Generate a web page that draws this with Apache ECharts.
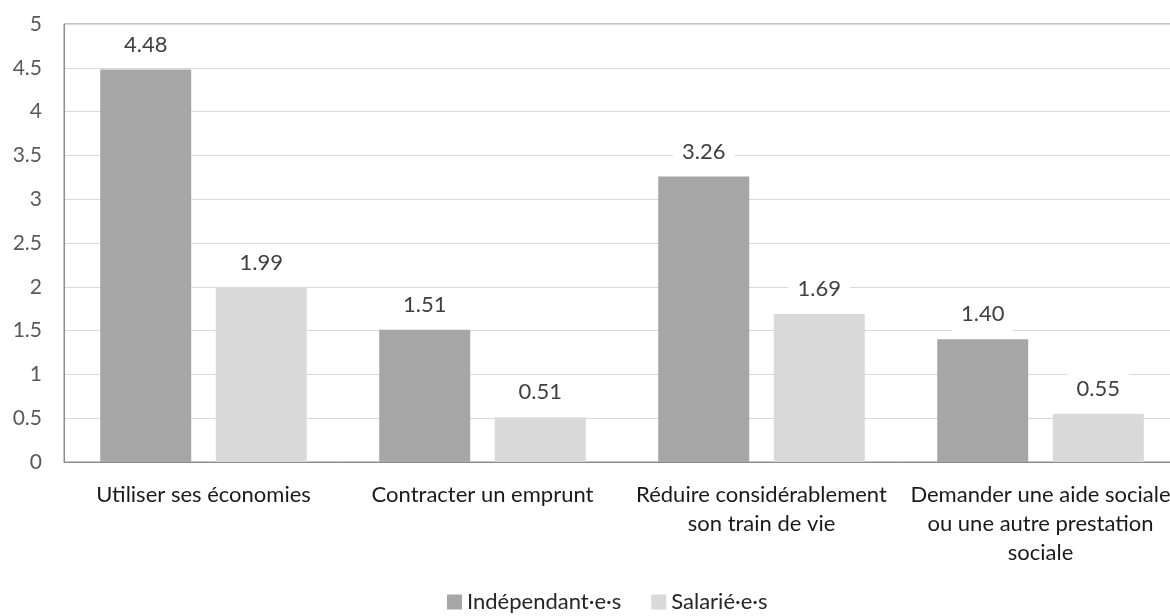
<!DOCTYPE html>
<html>
<head>
<meta charset="utf-8">
<script src="https://cdn.jsdelivr.net/npm/echarts@6/dist/echarts.min.js"></script>
<style>
  html, body { margin: 0; padding: 0; background: #fff; overflow: hidden; }
  #chart { width: 1180px; height: 616px; }
</style>
</head>
<body>
<div id="chart"></div>
<script>
// categories (line breaks as in the original)
const categories = [
  "Utiliser ses économies",
  "Contracter un emprunt",
  "Réduire considérablement\nson train de vie",
  "Demander une aide sociale\nou une autre prestation\nsociale",
];
const independants = [4.48, 1.51, 3.26, 1.40];
const salaries = [1.99, 0.51, 1.69, 0.55];
const seriesNames = ["Indépendant·e·s", "Salarié·e·s"];

const chart = echarts.init(document.getElementById("chart"), null, { renderer: "canvas" });

const fontFamily = "Lato, 'Open Sans', sans-serif";

// étiquette de valeur avec fond blanc (coupe la grille)
const valueLabel = {
  show: true,
  position: "top",
  distance: 8,
  formatter: (p) => p.value.toFixed(2),
  color: "#404040",
  fontSize: 22,
  fontFamily,
  backgroundColor: "#fff",
  padding: [5, 9, 6, 9],
};

const option = {
  animation: false,
  grid: {
    left: 64,
    right: 0,
    top: 24,
    bottom: 154,
    show: true,
    borderColor: "#8c8c8c",
    borderWidth: 1,
  },
  legend: {
    bottom: -2,
    left: 442,
    itemWidth: 15,
    itemHeight: 15,
    itemGap: 30,
    icon: "rect",
    textStyle: { color: "#262626", fontSize: 22, fontFamily },
    data: seriesNames,
  },
  xAxis: {
    type: "category",
    data: categories,
    axisTick: { show: false },
    axisLine: { lineStyle: { color: "#8c8c8c", width: 1 } },
    axisLabel: {
      interval: 0,
      color: "#1a1a1a",
      fontSize: 22,
      fontFamily,
      lineHeight: 29,
      margin: 18,
      align: "center",
    },
  },
  yAxis: {
    type: "value",
    min: 0,
    max: 5,
    interval: 0.5,
    axisLine: { show: true, lineStyle: { color: "#8c8c8c" } },
    axisTick: { show: false },
    splitLine: { lineStyle: { color: "#d9d9d9", width: 1 } },
    axisLabel: {
      color: "#595959",
      fontSize: 21,
      fontFamily,
      margin: 22,
    },
  },
  series: [
    {
      name: seriesNames[0],
      type: "bar",
      data: independants,
      barWidth: 91,
      barGap: "27%",
      itemStyle: { color: "#a6a6a6" },
      label: valueLabel,
    },
    {
      name: seriesNames[1],
      type: "bar",
      data: salaries,
      barWidth: 91,
      itemStyle: { color: "#d9d9d9" },
      label: valueLabel,
    },
  ],
};

chart.setOption(option);
</script>
</body>
</html>
